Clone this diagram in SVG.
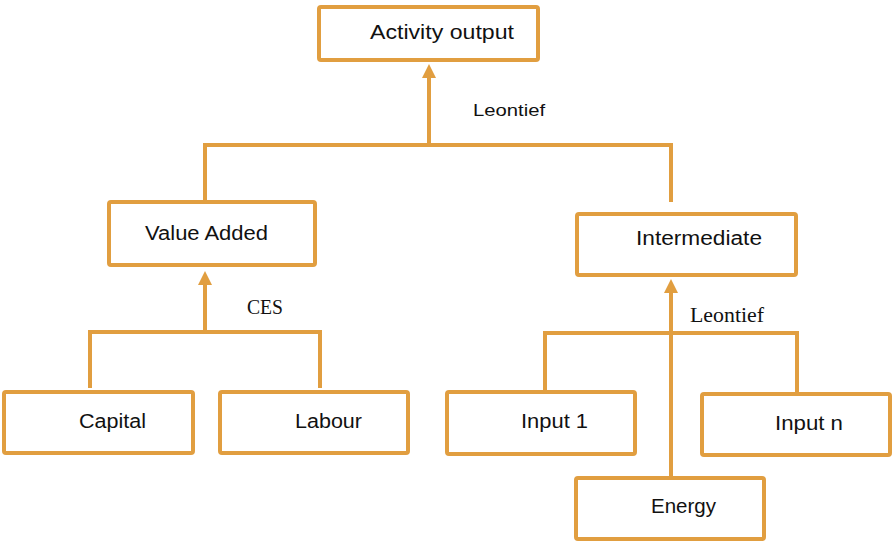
<svg xmlns="http://www.w3.org/2000/svg" width="893" height="544" viewBox="0 0 893 544">
<style>
.box{fill:#fff;stroke:#E19E40;stroke-width:4}
.con{fill:none;stroke:#E19E40;stroke-width:4}
.t{font-family:"Liberation Sans",Arial,sans-serif;font-size:20px;fill:#111}
.s{font-family:"Liberation Serif","Times New Roman",serif;font-size:20px;fill:#111}
.l{font-family:"Liberation Sans",Arial,sans-serif;font-size:16px;fill:#111}
</style>
<defs>
<marker id="arr" viewBox="0 0 14 14" refX="4" refY="7" markerWidth="14" markerHeight="14" markerUnits="userSpaceOnUse" orient="auto">
<path d="M0,0 L14,7 L0,14 z" fill="#E19E40"/>
</marker>
</defs>
<rect width="893" height="544" fill="#fff"/>
<g id="connectors">
<path class="con" d="M205,200 V145 H671 V202"/>
<path class="con" d="M429,145 V74" marker-end="url(#arr)"/>
<path class="con" d="M90,388 V332 H320 V388"/>
<path class="con" d="M205,332 V281" marker-end="url(#arr)"/>
<path class="con" d="M545,390 V333 H797 V392"/>
<path class="con" d="M671,476 V289" marker-end="url(#arr)"/>
</g>
<g id="activity-output">
<rect class="box" x="319" y="7" width="219" height="53" rx="2"/>
<text class="t" x="370" y="39" textLength="144" lengthAdjust="spacingAndGlyphs">Activity output</text>
</g>
<g id="leontief-top"><text class="l" x="473" y="116" textLength="72" lengthAdjust="spacingAndGlyphs">Leontief</text></g>
<g id="value-added">
<rect class="box" x="109" y="202" width="206" height="63" rx="2"/>
<text class="t" x="145" y="240" textLength="123" lengthAdjust="spacingAndGlyphs">Value Added</text>
</g>
<g id="ces"><text class="s" x="247" y="314" textLength="36" lengthAdjust="spacingAndGlyphs">CES</text></g>
<g id="intermediate">
<rect class="box" x="577" y="214" width="219" height="61" rx="2"/>
<text class="t" x="636" y="245" textLength="126" lengthAdjust="spacingAndGlyphs">Intermediate</text>
</g>
<g id="leontief-right"><text class="s" x="690" y="322" textLength="74" lengthAdjust="spacingAndGlyphs">Leontief</text></g>
<g id="capital">
<rect class="box" x="4" y="392" width="189" height="61" rx="2"/>
<text class="t" x="79" y="428" textLength="67" lengthAdjust="spacingAndGlyphs">Capital</text>
</g>
<g id="labour">
<rect class="box" x="220" y="392" width="188" height="61" rx="2"/>
<text class="t" x="295" y="428" textLength="67" lengthAdjust="spacingAndGlyphs">Labour</text>
</g>
<g id="input-1">
<rect class="box" x="447" y="392" width="188" height="62" rx="2"/>
<text class="t" x="521" y="428" textLength="67" lengthAdjust="spacingAndGlyphs">Input 1</text>
</g>
<g id="input-n">
<rect class="box" x="702" y="394" width="188" height="61" rx="2"/>
<text class="t" x="775" y="430" textLength="68" lengthAdjust="spacingAndGlyphs">Input n</text>
</g>
<g id="energy">
<rect class="box" x="576" y="478" width="188" height="61" rx="2"/>
<text class="t" x="651" y="513" textLength="65" lengthAdjust="spacingAndGlyphs">Energy</text>
</g>
</svg>
